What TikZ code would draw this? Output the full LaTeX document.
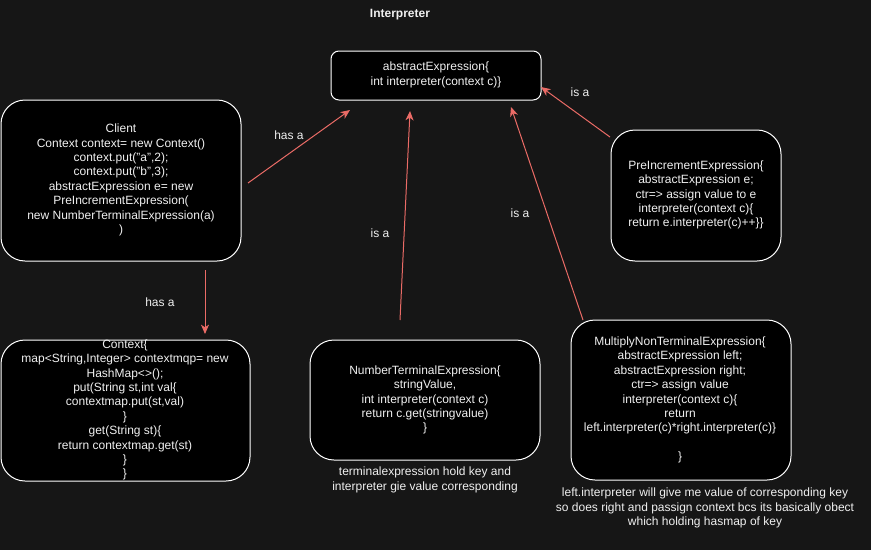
\documentclass[tikz,border=0pt]{standalone}
\usepackage{fontspec}
\setmainfont{Liberation Sans}
\usetikzlibrary{arrows.meta}
\definecolor{bg}{RGB}{22,22,22}
\definecolor{link}{RGB}{234,107,102}
\definecolor{txt}{RGB}{240,240,240}
\newcommand{\dq}{\symbol{34}}
\begin{document}
\begin{tikzpicture}[x=0.75pt,y=-0.75pt,
  classbox/.style={draw=white,fill=black,line width=0.75pt,text=txt,align=center,
    font=\fontsize{9}{10.8}\selectfont},
  note/.style={text=txt,align=center,font=\fontsize{9}{10.8}\selectfont},
  rel/.style={draw=link,line width=0.75pt,-{Stealth[length=7pt,width=6pt,inset=2pt]}}]
% canvas
\fill[bg] (0,0) rectangle (871,550);
\useasboundingbox (0,0) rectangle (871,550);

\node[text=txt,font=\fontsize{9}{10.8}\selectfont\bfseries] (title) at (400,15) {Interpreter};

% boxes
\draw[classbox,rounded corners=6pt] (331,51) rectangle (541,100);
\node[note] (abs) at (436,75) {abstractExpression\{\\int interpreter(context c)\}};

\draw[classbox,rounded corners=18pt] (1,100) rectangle (241,261);
\node[note] (client) at (121,180) {Client\\Context context= new Context()\\context.put(\dq a\dq,2);\\context.put(\dq b\dq,3);\\abstractExpression e= new\\PreIncrementExpression(\\new NumberTerminalExpression(a)\\)};

\draw[classbox,rounded corners=18pt] (611,130) rectangle (781,261);
\node[note] (pre) at (696,195) {PreIncrementExpression\{\\abstractExpression e;\\ctr=> assign value to e\\interpreter(context c)\{\\return e.interpreter(c)++\}\}};

\draw[classbox,rounded corners=18pt] (1,340) rectangle (250,481);
\node[note] (ctx) at (125,410) {Context\{\\map<String,Integer> contextmqp= new\\HashMap<>();\\put(String st,int val\{\\contextmap.put(st,val)\\\}\\get(String st)\{\\return contextmap.get(st)\\\}\\\}};

\draw[classbox,rounded corners=18pt] (310,340) rectangle (540,460);
\node[note] (num) at (425,400) {NumberTerminalExpression\{\\stringValue,\\int interpreter(context c)\\return c.get(stringvalue)\\\}};

\draw[classbox,rounded corners=18pt] (571,320) rectangle (791,480);
\node[note] (mul) at (680,400) {MultiplyNonTerminalExpression\{\\abstractExpression left;\\abstractExpression right;\\ctr=> assign value\\interpreter(context c)\{\\return\\left.interpreter(c)*right.interpreter(c)\}\\ \\\}};

% notes
\node[note] (numnote) at (425,480) {terminalexpression hold key and\\interpreter gie value corresponding};
\node[note] (mulnote) at (705,508) {left.interpreter will give me value of corresponding key\\so does right and passign context bcs its basically obect\\which holding hasmap of key};

% connector end points
\coordinate (c1s) at (248,183); \coordinate (c1e) at (350,110);
\coordinate (c2s) at (205,270); \coordinate (c2e) at (205,334);
\coordinate (c3s) at (400,320); \coordinate (c3e) at (410,111);
\coordinate (c4s) at (583,320); \coordinate (c4e) at (511,107);
\coordinate (c5s) at (610,137); \coordinate (c5e) at (541,87);

\draw[rel] (c1s) -- (c1e);
\draw[rel] (c2s) -- (c2e);
\draw[rel] (c3s) -- (c3e);
\draw[rel] (c4s) -- (c4e);
\draw[rel] (c5s) -- (c5e);

% relation labels
\node[note] (l1) at (289,135) {has a};
\node[note] (l2) at (160,302) {has a};
\node[note] (l3) at (380,233) {is a};
\node[note] (l4) at (520,213) {is a};
\node[note] (l5) at (580,92) {is a};
\end{tikzpicture}
\end{document}
